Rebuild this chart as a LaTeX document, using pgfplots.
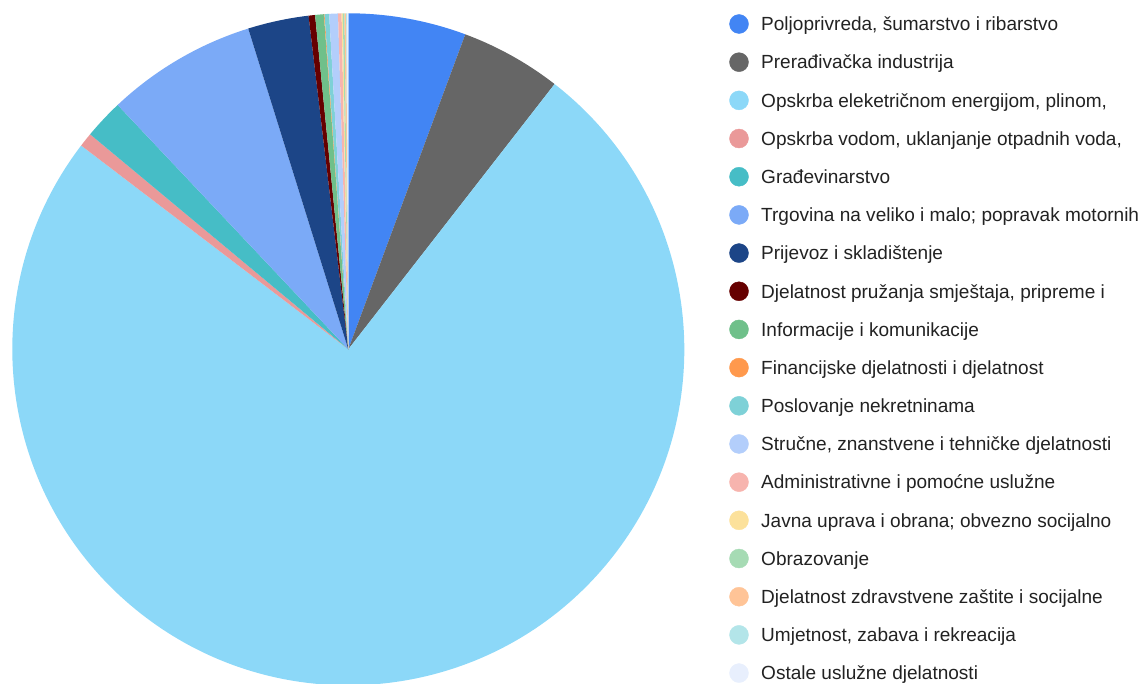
\documentclass[border=0pt]{standalone}
\usepackage{pgfplots}
\usepackage{pgfplotstable}
\usepackage{fontspec}
\setmainfont{Liberation Sans}
\pgfplotsset{compat=1.18}

% slice colours, in legend order
\definecolor{c0}{HTML}{4285F4}
\definecolor{c1}{HTML}{666666}
\definecolor{c2}{HTML}{8CD8F8}
\definecolor{c3}{HTML}{EA9999}
\definecolor{c4}{HTML}{46BDC6}
\definecolor{c5}{HTML}{7BAAF7}
\definecolor{c6}{HTML}{1C4587}
\definecolor{c7}{HTML}{660000}
\definecolor{c8}{HTML}{6FC08A}
\definecolor{c9}{HTML}{FF994D}
\definecolor{c10}{HTML}{7ED1D7}
\definecolor{c11}{HTML}{B3CEFB}
\definecolor{c12}{HTML}{F7B4AE}
\definecolor{c13}{HTML}{FCE19B}
\definecolor{c14}{HTML}{A6DBB4}
\definecolor{c15}{HTML}{FFC497}
\definecolor{c16}{HTML}{B3E5E9}
\definecolor{c17}{HTML}{E8EFFD}
\definecolor{legtxt}{HTML}{222222}

\tikzset{legtext/.style={anchor=base west, inner sep=0pt, text=legtxt,
    font=\fontsize{19.1}{22}\selectfont}}

% share of each activity, percent
\pgfplotstableread[col sep=&, row sep=\\]{
value & label \\
5.67 & Poljoprivreda, šumarstvo i ribarstvo \\
4.87 & Prerađivačka industrija \\
74.97 & Opskrba eleketričnom energijom, plinom, \\
0.68 & Opskrba vodom, uklanjanje otpadnih voda, \\
1.91 & Građevinarstvo \\
7.24 & Trgovina na veliko i malo; popravak motornih \\
2.93 & Prijevoz i skladištenje \\
0.31 & Djelatnost pružanja smještaja, pripreme i \\
0.42 & Informacije i komunikacije \\
0.03 & Financijske djelatnosti i djelatnost \\
0.22 & Poslovanje nekretninama \\
0.42 & Stručne, znanstvene i tehničke djelatnosti \\
0.17 & Administrativne i pomoćne uslužne \\
0.06 & Javna uprava i obrana; obvezno socijalno \\
0.08 & Obrazovanje \\
0.08 & Djelatnost zdravstvene zaštite i socijalne \\
0.04 & Umjetnost, zabava i rekreacija \\
0.06 & Ostale uslužne djelatnosti \\
}\piedata

% cumulative angles (clockwise from 12 o'clock) -> start/end angles per slice
\pgfmathsetmacro\total{0}
\pgfplotsforeachungrouped \i in {0,...,17} {%
  \pgfplotstablegetelem{\i}{value}\of\piedata
  \pgfmathsetmacro\total{\total+\pgfplotsretval}%
}
\pgfmathsetmacro\acc{0}
\pgfplotsforeachungrouped \i in {0,...,17} {%
  \pgfplotstablegetelem{\i}{value}\of\piedata
  \pgfmathsetmacro\tmpS{90-\acc}%
  \pgfmathsetmacro\acc{\acc+\pgfplotsretval/\total*360}%
  \pgfmathsetmacro\tmpE{90-\acc}%
  \expandafter\xdef\csname aS\i\endcsname{\tmpS}%
  \expandafter\xdef\csname aE\i\endcsname{\tmpE}%
  \pgfmathsetmacro\tmpY{24+38.18*\i}%
  \expandafter\xdef\csname yy\i\endcsname{\tmpY}%
  \pgfmathsetmacro\tmpY{\tmpY+6.8}%
  \expandafter\xdef\csname yb\i\endcsname{\tmpY}%
  \pgfplotstablegetelem{\i}{label}\of\piedata
  \expandafter\global\expandafter\let\csname lab\i\endcsname\pgfplotsretval
}

\begin{document}
\begin{tikzpicture}
\begin{axis}[
    x=1bp, y=1bp, y dir=reverse,
    xmin=0, xmax=1142, ymin=0, ymax=684,
    hide axis, clip=false,
    ]
\coordinate (ll) at (axis cs:0,684);
\coordinate (ur) at (axis cs:1142,0);
\pgfplotsinvokeforeach{0,...,17}{
  \fill[c#1] (axis cs:348.3,349.3) -- ++(\csname aS#1\endcsname:336bp)
      arc[start angle=\csname aS#1\endcsname, end angle=\csname aE#1\endcsname, radius=336bp] -- cycle;
  \addplot[only marks, mark=*, mark size=9.5bp, draw=c#1, fill=c#1]
      coordinates {(739,\csname yy#1\endcsname)};
  \node[legtext] at (axis cs:761,\csname yb#1\endcsname) {\csname lab#1\endcsname};
}
\end{axis}
\pgfresetboundingbox
\path (ll) rectangle (ur);
\end{tikzpicture}
\end{document}
